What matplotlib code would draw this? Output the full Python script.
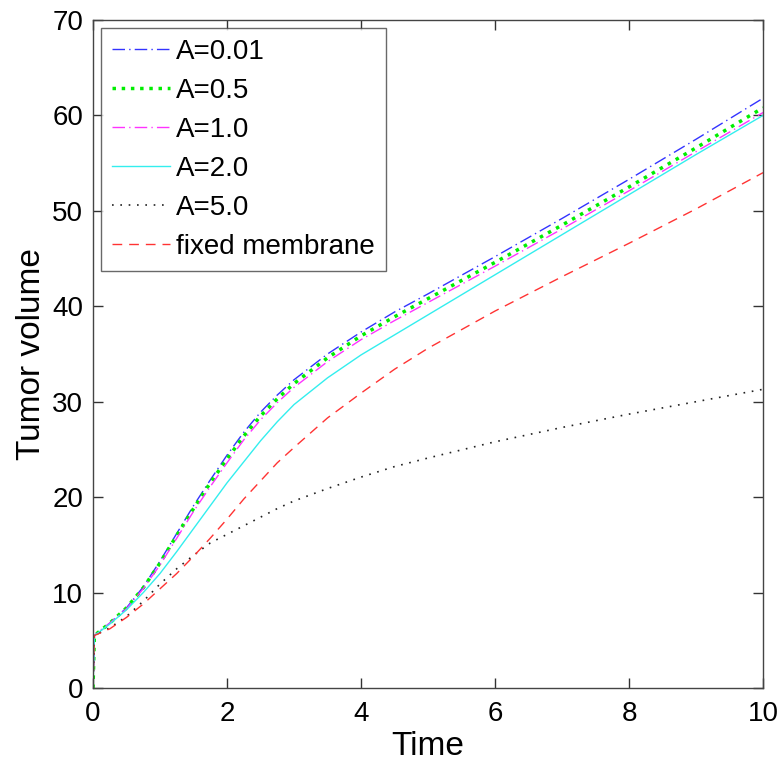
import numpy as np
import matplotlib
matplotlib.use("Agg")
import matplotlib.pyplot as plt

plt.rcParams['font.family'] = ['Liberation Sans', 'DejaVu Sans']

# sample times
t = [0, 0.02, 0.25, 0.5, 0.75, 1.0, 1.25, 1.5, 1.75, 2.0, 2.25, 2.5, 2.75, 3.0,
     3.5, 4.0, 4.5, 5.0, 6.0, 7.0, 8.0, 9.0, 10.0]

# tumor volume for each case
v_a001 = [0, 5.5, 6.8, 8.4, 10.6, 13.3, 16.2, 19.1, 21.8, 24.4, 26.8, 28.9, 30.7, 32.3,
          35.0, 37.3, 39.4, 41.3, 45.2, 49.2, 53.3, 57.5, 61.8]
v_a05 = [0, 5.5, 6.8, 8.4, 10.5, 13.1, 16.0, 18.8, 21.5, 24.0, 26.4, 28.5, 30.3, 31.9,
         34.6, 36.9, 38.9, 40.8, 44.6, 48.5, 52.5, 56.6, 60.8]
v_a1 = [0, 5.5, 6.8, 8.3, 10.4, 12.9, 15.7, 18.5, 21.1, 23.6, 26.0, 28.1, 29.9, 31.5,
        34.2, 36.5, 38.5, 40.4, 44.2, 48.1, 52.1, 56.2, 60.3]
v_a2 = [0, 5.5, 6.7, 8.2, 10.0, 12.0, 14.3, 16.7, 19.1, 21.5, 23.7, 25.9, 27.9, 29.7,
        32.5, 34.9, 37.0, 39.1, 43.3, 47.5, 51.7, 55.9, 60.0]
v_a5 = [0, 5.5, 6.3, 7.5, 9.1, 10.9, 12.5, 13.9, 15.2, 16.1, 17.0, 17.9, 18.8, 19.6,
        20.9, 22.1, 23.2, 24.1, 25.8, 27.3, 28.7, 30.0, 31.3]
v_fixed = [0, 5.5, 6.2, 7.4, 8.8, 10.4, 12.0, 13.8, 15.7, 17.7, 19.8, 21.7, 23.6, 25.2,
           28.3, 30.9, 33.4, 35.6, 39.5, 43.1, 46.6, 50.2, 54.0]

labels = ['A=0.01', 'A=0.5', 'A=1.0', 'A=2.0', 'A=5.0', 'fixed membrane']

fig = plt.figure(figsize=(7.83, 7.62), dpi=100)
ax = fig.add_axes([0.1188, 0.0971, 0.8557, 0.8767])

ax.plot(t, v_a001, color='#3333ff', lw=1.0, dashes=(9, 3, 1, 3), label=labels[0])
ax.plot(t, v_a05, color='#00ee00', lw=2.5, linestyle=':', label=labels[1])
ax.plot(t, v_a1, color='#ff33ff', lw=1.0, dashes=(9, 3, 1, 3), label=labels[2])
ax.plot(t, v_a2, color='#33eeee', lw=1.0, linestyle='-', label=labels[3])
ax.plot(t, v_a5, color='#222222', lw=1.2, dashes=(1, 4), label=labels[4])
ax.plot(t, v_fixed, color='#ff3333', lw=1.0, dashes=(7, 5), label=labels[5])

ax.set_xlim(0, 10)
ax.set_ylim(0, 70)
ax.set_xticks([0, 2, 4, 6, 8, 10])
ax.set_yticks(np.arange(0, 71, 10))
ax.tick_params(direction='in', top=True, right=True, labelsize=20, length=7, width=1,
               colors='#333333', labelcolor='black')
ax.tick_params(axis='x', pad=9)
ax.tick_params(axis='y', pad=7)
for s in ax.spines.values():
    s.set_color('#444444')
    s.set_linewidth(1.0)

ax.set_xlabel('Time', fontsize=24, labelpad=3)
ax.set_ylabel('Tumor volume', fontsize=24, labelpad=4)

leg = ax.legend(loc='upper left', fontsize=20, frameon=True, fancybox=False,
                edgecolor='#444444', handlelength=2.1, borderaxespad=0.28,
                labelspacing=0.47, handletextpad=0.2, borderpad=0.4)
leg.get_frame().set_linewidth(1.0)

fig.savefig('out.png', dpi=100)
